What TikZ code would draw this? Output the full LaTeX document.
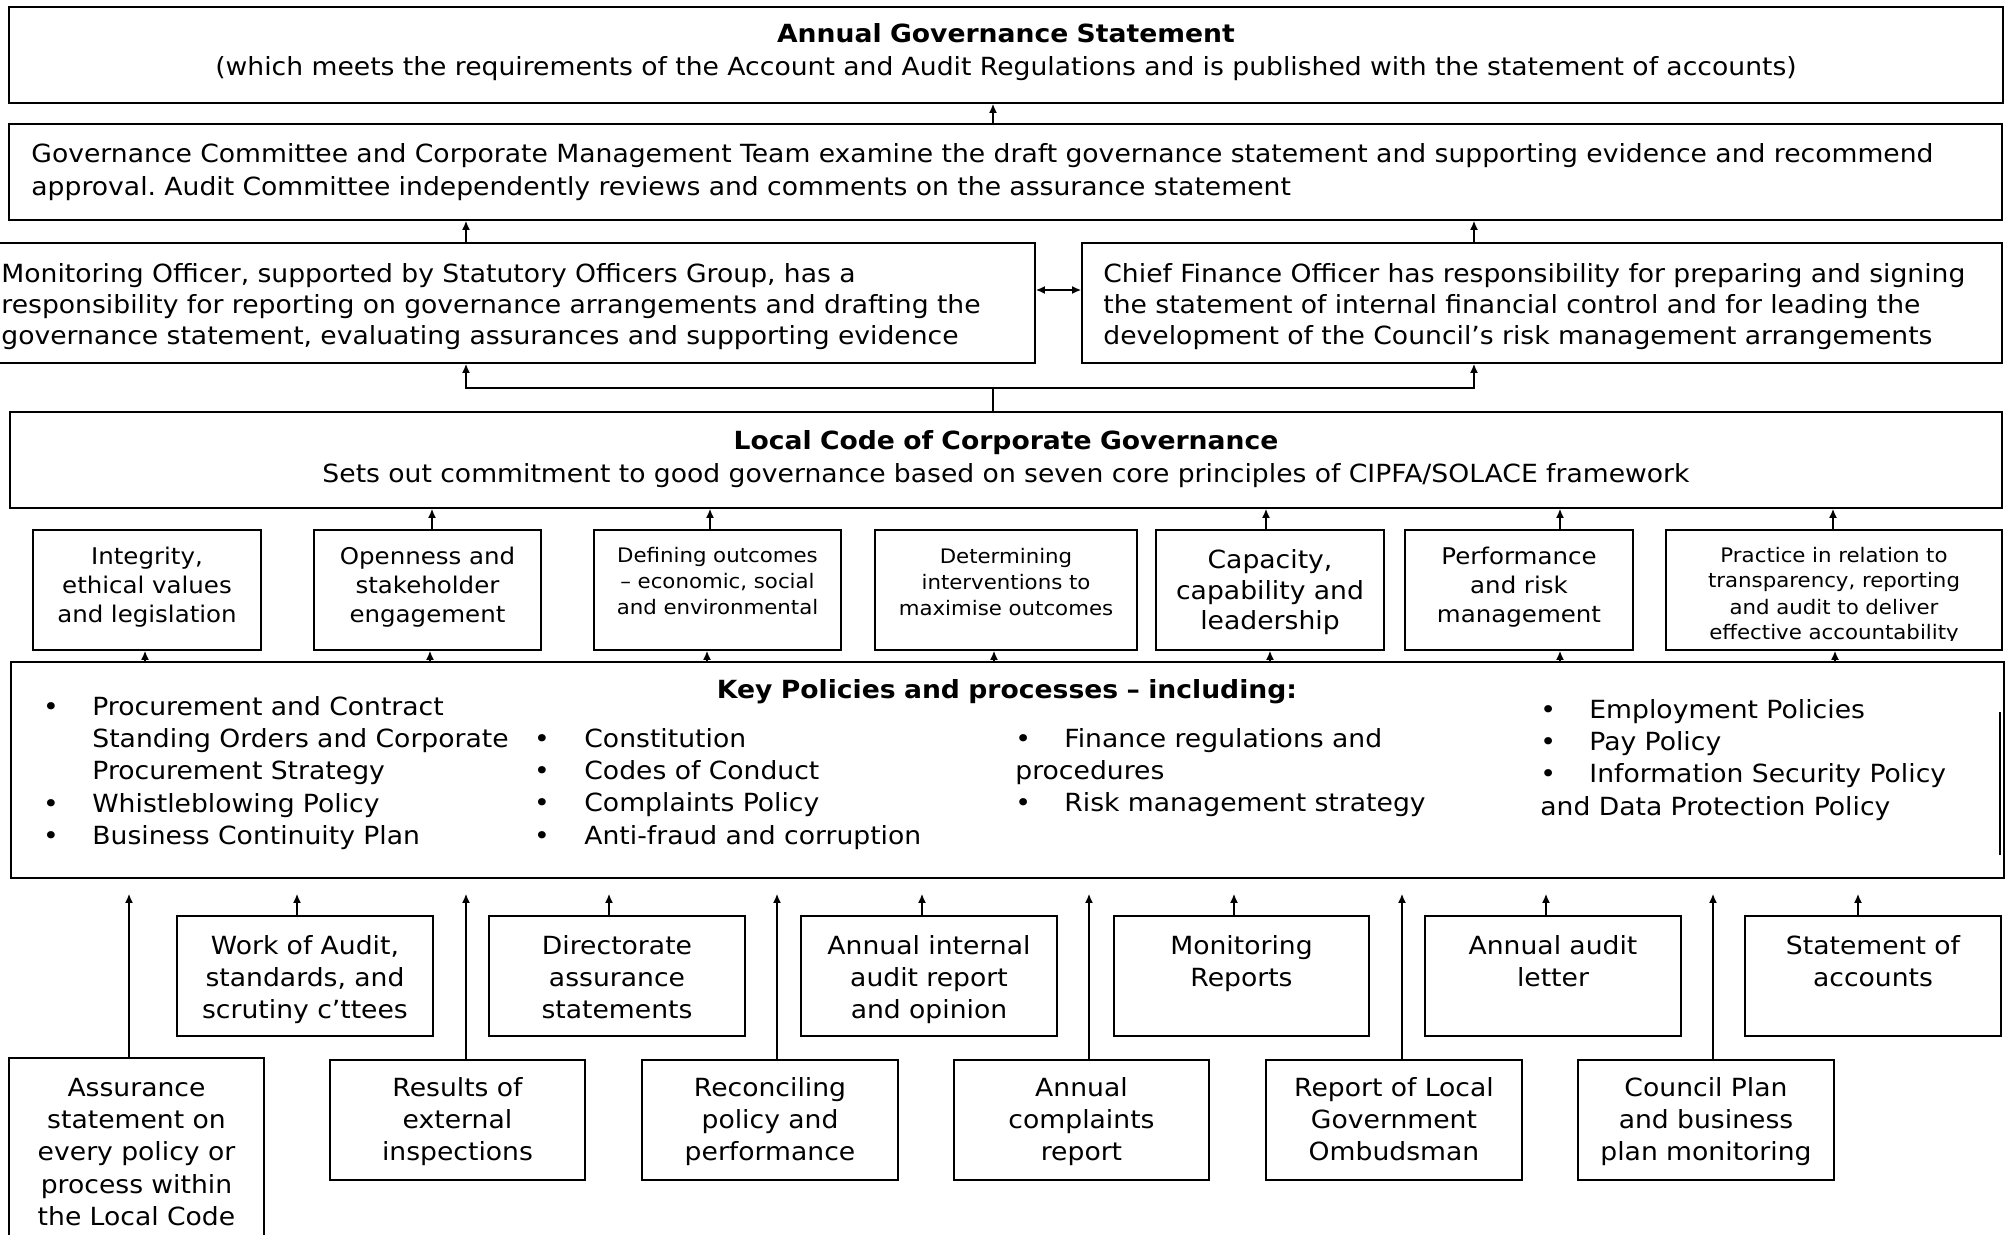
\documentclass[tikz,border=0pt]{standalone}
\usepackage{fontspec}
\setmainfont{DejaVu Sans}[FakeStretch=1.065]
\usetikzlibrary{arrows.meta,fit}
\newcommand{\kpb}[1]{\makebox[#1][l]{•}}
\frenchspacing
\begin{document}
\begin{tikzpicture}[x=0.5pt,y=-0.5pt,
  box/.style={draw, line width=0.9pt, inner sep=0pt},
  arr/.style={-{Latex[length=4.5pt,width=4pt]}, line width=0.7pt},
  darr/.style={{Latex[length=4.5pt,width=4pt]}-{Latex[length=4.5pt,width=4pt]}, line width=0.7pt},
  ln/.style={line width=0.7pt},
  ct/.style={inner sep=0pt, anchor=base, align=center, text width=300pt},
  lt/.style={inner sep=0pt, anchor=base west, align=left, text width=990pt},
  fa/.style={font=\fontsize{12.5pt}{16.2pt}\selectfont},
  fb/.style={font=\fontsize{11.5pt}{14.4pt}\selectfont},
  fc/.style={font=\fontsize{10pt}{12.8pt}\selectfont},
  fd/.style={font=\fontsize{12.5pt}{15.5pt}\selectfont},
]
\useasboundingbox (0,0) rectangle (2009,1235);
\fill[white] (0,0) rectangle (2009,1235);

% ---------- boxes ----------
\node[box, fit={(9,7) (2003,103)}] (ags) {};
\node[box, fit={(9,124) (2002,220)}] (gc) {};
\node[box, fit={(-20,243) (1035,363)}] (mo) {};
\node[box, fit={(1082,243) (2002,363)}] (cfo) {};
\node[box, fit={(10,412) (2002,508)}] (lc) {};

\node[box, fit={(33,530) (261,650)}] (b1) {};
\node[box, fit={(314,530) (541,650)}] (b2) {};
\node[box, fit={(594,530) (841,650)}] (b3) {};
\node[box, fit={(875,530) (1137,650)}] (b4) {};
\node[box, fit={(1156,530) (1384,650)}] (b5) {};
\node[box, fit={(1405,530) (1633,650)}] (b6) {};
\node[box, fit={(1666,530) (2002,650)}] (b7) {};

\node[box, fit={(11,662) (2004,878)}] (kp) {};
\draw[line width=0.9pt] (2000,712) -- (2000,855);

\node[box, fit={(177,916) (433,1036)}] (wa) {};
\node[box, fit={(489,916) (745,1036)}] (da) {};
\node[box, fit={(801,916) (1057,1036)}] (ai) {};
\node[box, fit={(1114,916) (1369,1036)}] (mr) {};
\node[box, fit={(1425,916) (1681,1036)}] (al) {};
\node[box, fit={(1745,916) (2001,1036)}] (sa) {};

\node[box, fit={(9,1058) (264,1260)}] (as) {};
\node[box, fit={(330,1060) (585,1180)}] (re) {};
\node[box, fit={(642,1060) (898,1180)}] (rc) {};
\node[box, fit={(954,1060) (1209,1180)}] (ac) {};
\node[box, fit={(1266,1060) (1522,1180)}] (rl) {};
\node[box, fit={(1578,1060) (1834,1180)}] (cp) {};

% ---------- texts ----------
\node[ct, text width=990pt, fa] (ags-t) at (1006,43) {{\bfseries Annual Governance Statement}\\(which meets the requirements of the Account and Audit Regulations and is published with the statement of accounts)};
\node[lt, fa, text width=995pt] (gc-t) at (31,163) {Governance Committee and Corporate Management Team examine the draft governance statement and supporting evidence and recommend\\approval. Audit Committee independently reviews and comments on the assurance statement};
\node[lt, fd] (mo-t) at (1,283) {Monitoring Officer, supported by Statutory Officers Group, has a\\responsibility for reporting on governance arrangements and drafting the\\governance statement, evaluating assurances and supporting evidence};
\node[lt, fd] (cfo-t) at (1103,283) {Chief Finance Officer has responsibility for preparing and signing\\the statement of internal financial control and for leading the\\development of the Council’s risk management arrangements};
\node[ct, text width=990pt, fa] (lc-t) at (1006,450) {{\bfseries Local Code of Corporate Governance}\\Sets out commitment to good governance based on seven core principles of CIPFA/SOLACE framework};

\node[ct, fb] (b1-t) at (147,565) {Integrity,\\ethical values\\and legislation};
\node[ct, fb] (b2-t) at (427.5,565) {Openness and\\stakeholder\\engagement};
\node[ct, fc] (b3-t) at (717.5,563) {Defining outcomes\\– economic, social\\and environmental};
\node[ct, fc] (b4-t) at (1006,564) {Determining\\interventions to\\maximise outcomes};
\node[ct, fd] (b5-t) at (1270,568) {Capacity,\\capability and\\leadership};
\node[ct, fb] (b6-t) at (1519,565) {Performance\\and risk\\management};
\begin{scope}
\clip (1666,530) rectangle (2002,640);
\node[ct, font=\fontsize{10pt}{13pt}\selectfont] (b7-t) at (1834,562) {Practice in relation to\\transparency, reporting\\and audit to deliver\\effective accountability};
\end{scope}

\node[ct, font=\bfseries\fontsize{12.5pt}{16pt}\selectfont] (kp-t) at (1007,698) {Key Policies and processes – including:};
\node[lt, fa] (kp1) at (42.6,715) {\kpb{24.7pt}Procurement and Contract\\\hspace*{24.7pt}Standing Orders and Corporate\\\hspace*{24.7pt}Procurement Strategy\\\kpb{24.7pt}Whistleblowing Policy\\\kpb{24.7pt}Business Continuity Plan};
\node[lt, fa] (kp2) at (533.6,747) {\kpb{25.2pt}Constitution\\\kpb{25.2pt}Codes of Conduct\\\kpb{25.2pt}Complaints Policy\\\kpb{25.2pt}Anti-fraud and corruption};
\node[lt, fa] (kp3) at (1015,747) {\kpb{24.5pt}Finance regulations and\\procedures\\\kpb{24.5pt}Risk management strategy};
\node[lt, fa] (kp4) at (1540,718) {\kpb{24.5pt}Employment Policies\\\kpb{24.5pt}Pay Policy\\\kpb{24.5pt}Information Security Policy\\and Data Protection Policy};

\node[ct, fa] (wa-t) at (305,954) {Work of Audit,\\standards, and\\scrutiny c’ttees};
\node[ct, fa] (da-t) at (617,954) {Directorate\\assurance\\statements};
\node[ct, fa] (ai-t) at (929,954) {Annual internal\\audit report\\and opinion};
\node[ct, fa] (mr-t) at (1241.5,954) {Monitoring\\Reports};
\node[ct, fa] (al-t) at (1553,954) {Annual audit\\letter};
\node[ct, fa] (sa-t) at (1873,954) {Statement of\\accounts};

\node[ct, fa] (as-t) at (136.5,1096) {Assurance\\statement on\\every policy or\\process within\\the Local Code};
\node[ct, fa] (re-t) at (457.5,1096) {Results of\\external\\inspections};
\node[ct, fa] (rc-t) at (770,1096) {Reconciling\\policy and\\performance};
\node[ct, fa] (ac-t) at (1081.5,1096) {Annual\\complaints\\report};
\node[ct, fa] (rl-t) at (1394,1096) {Report of Local\\Government\\Ombudsman};
\node[ct, fa] (cp-t) at (1706,1096) {Council Plan\\and business\\plan monitoring};

% ---------- connectors ----------
\coordinate (j) at (993,388);
\coordinate (jl) at (466,388);
\coordinate (jr) at (1474,388);
\coordinate (dd) at (0,290);
\draw[arr] (gc.north -| j) -- (ags.south -| j);
\draw[arr] (mo.north -| jl) -- (gc.south -| jl);
\draw[arr] (cfo.north -| jr) -- (gc.south -| jr);
\draw[darr] (mo.east |- dd) -- (cfo.west |- dd);
\draw[ln] (lc.north -| j) -- (j);
\draw[arr] (j) -- (jl) -- (mo.south -| jl);
\draw[arr] (j) -- (jr) -- (cfo.south -| jr);

\foreach \n/\xx in {b2/432, b3/710, b5/1266, b6/1560, b7/1833} {
  \coordinate (g) at (\xx,0);
  \draw[arr] (\n.north -| g) -- (lc.south -| g);
}
\foreach \n/\xx in {b1/145, b2/430, b3/707, b4/994, b5/1270, b6/1560, b7/1835} {
  \coordinate (g) at (\xx,0);
  \draw[arr] (kp.north -| g) -- (\n.south -| g);
}
\foreach \n/\xx in {wa/297, da/609, ai/922, mr/1234, al/1546, sa/1858, as/129, re/466, rc/777, ac/1089, rl/1402, cp/1713} {
  \coordinate (g) at (\xx,0);
  \draw[arr, shorten >=7.5pt] (\n.north -| g) -- (kp.south -| g);
}
\end{tikzpicture}
\end{document}
